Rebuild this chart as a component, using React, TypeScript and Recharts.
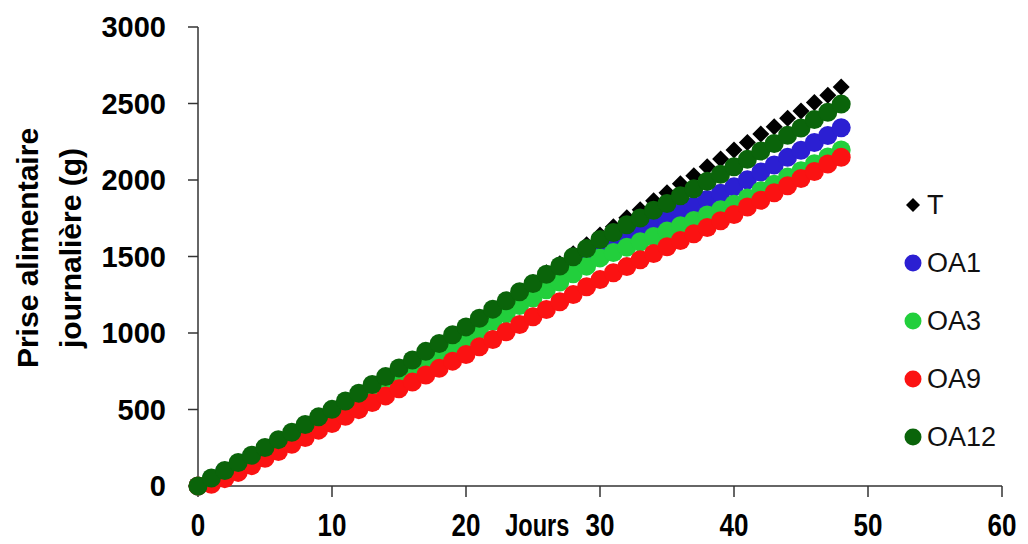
import { ScatterChart, Scatter, XAxis, YAxis, Legend } from 'recharts';

const days = [
  0, 1, 2, 3, 4, 5, 6, 7, 8, 9, 10, 11, 12, 13, 14, 15, 16, 17, 18, 19, 20, 21, 22, 23, 24,
  25, 26, 27, 28, 29, 30, 31, 32, 33, 34, 35, 36, 37, 38, 39, 40, 41, 42, 43, 44, 45, 46, 47, 48,
];

const T = [
  0, 47, 99, 146, 197, 244, 295, 342, 393, 440, 491, 541, 597, 648, 703, 754, 809, 860, 915, 966,
  1021, 1080, 1146, 1204, 1270, 1328, 1394, 1452, 1518, 1576, 1641, 1694, 1753, 1805, 1864, 1916,
  1975, 2027, 2086, 2138, 2196, 2245, 2300, 2348, 2403, 2451, 2506, 2554, 2608,
];
const OA1 = [
  0, 46, 97, 143, 193, 239, 289, 335, 385, 431, 481, 531, 585, 635, 689, 739, 793, 843, 897, 947,
  1001, 1053, 1109, 1161, 1217, 1269, 1325, 1377, 1433, 1485, 1541, 1581, 1624, 1664, 1707, 1747,
  1790, 1830, 1873, 1913, 1956, 2002, 2052, 2098, 2148, 2195, 2245, 2291, 2341,
];
const OA3 = [
  0, 44, 93, 137, 185, 229, 277, 321, 369, 413, 461, 510, 563, 612, 665, 714, 767, 816, 869, 918,
  971, 1021, 1075, 1125, 1179, 1229, 1283, 1333, 1387, 1437, 1491, 1526, 1561, 1596, 1631, 1666,
  1701, 1736, 1771, 1806, 1841, 1883, 1930, 1972, 2019, 2061, 2107, 2150, 2196,
];
const OA9 = [
  0, 12, 48, 89, 133, 181, 225, 273, 317, 365, 409, 456, 499, 546, 589, 636, 679, 726, 769, 816,
  859, 910, 957, 1008, 1055, 1106, 1153, 1204, 1251, 1302, 1349, 1394, 1434, 1479, 1519, 1564,
  1604, 1649, 1689, 1734, 1774, 1823, 1868, 1917, 1962, 2010, 2055, 2104, 2149,
];
const OA12 = [
  0, 52, 101, 153, 201, 252, 303, 351, 402, 452, 501, 556, 607, 664, 715, 772, 823, 880, 931, 988,
  1040, 1096, 1156, 1210, 1270, 1324, 1384, 1438, 1498, 1552, 1611, 1657, 1707, 1752, 1802, 1847,
  1897, 1942, 1992, 2037, 2087, 2135, 2190, 2238, 2292, 2340, 2395, 2443, 2496,
];

const xTicks = [0, 10, 20, 30, 40, 50, 60];
const yTicks = [0, 500, 1000, 1500, 2000, 2500, 3000];

const series = [
  { name: 'T', values: T, color: '#000000', marker: 'diamond' },
  { name: 'OA1', values: OA1, color: '#2b1fd2', marker: 'circle' },
  { name: 'OA3', values: OA3, color: '#22cf3c', marker: 'circle' },
  { name: 'OA9', values: OA9, color: '#fb1212', marker: 'circle' },
  { name: 'OA12', values: OA12, color: '#0a640a', marker: 'circle' },
];

const toPoints = (values: number[]) => days.map((d, i) => ({ day: d, value: values[i] }));

const makeShape = (color: string, marker: string) => (props: any) => {
  const { cx, cy } = props;
  if (cx == null || cy == null) return null;
  if (marker === 'diamond') {
    const s = 8.5;
    return <polygon points={`${cx},${cy - s} ${cx + s},${cy} ${cx},${cy + s} ${cx - s},${cy}`} fill={color} />;
  }
  return <circle cx={cx} cy={cy} r={9.5} fill={color} />;
};

const sansFont = '"Liberation Sans", Arial, sans-serif';

// x tick labels in the original are a condensed bold face, so squeeze horizontally
const XTick = ({ x, y, payload }: any) => (
  <text
    transform={`translate(${x}, ${y}) scale(0.84, 1)`}
    textAnchor="middle"
    dominantBaseline="central"
    fontFamily={sansFont}
    fontWeight="bold"
    fontSize={31}
    fill="#000"
  >
    {payload.value}
  </text>
);

const LegendBox = () => (
  <div style={{ fontFamily: sansFont, fontSize: 27, color: '#111' }}>
    {series.map((s) => (
      <div key={s.name} style={{ height: 58, display: 'flex', alignItems: 'center' }}>
        <svg width={20} height={20} style={{ marginRight: 4 }}>
          {s.marker === 'diamond' ? (
            <polygon points="10,3 17,10 10,17 3,10" fill={s.color} />
          ) : (
            <circle cx={10} cy={10} r={8.5} fill={s.color} />
          )}
        </svg>
        <span>{s.name}</span>
      </div>
    ))}
  </div>
);

const YLabel = () => {
  const cy = 240;
  return (
    <g fontFamily={sansFont} fontWeight="bold" fontSize={30} fill="#000">
      <text x={19} y={cy} textAnchor="middle" dominantBaseline="central" transform={`rotate(-90, 19, ${cy})`}>
        Prise alimentaire
      </text>
      <text x={62} y={cy} textAnchor="middle" dominantBaseline="central" transform={`rotate(-90, 62, ${cy})`}>
        journalière (g)
      </text>
    </g>
  );
};

const XLabel = ({ viewBox }: any) => {
  const x = viewBox.x + viewBox.width * 0.422;
  return (
    <text
      transform={`translate(${x}, 517) scale(0.76, 1)`}
      textAnchor="middle"
      dominantBaseline="central"
      fontFamily={sansFont}
      fontWeight="bold"
      fontSize={31}
      fill="#000"
    >
      Jours
    </text>
  );
};

export default function App() {
  return (
    <div style={{ width: 1012, height: 536, background: '#fff' }}>
      <ScatterChart width={1012} height={536} margin={{ top: 19, right: 18, bottom: 18, left: 80 }}>
        <XAxis
          type="number"
          dataKey="day"
          domain={[0, 60]}
          ticks={xTicks}
          interval={0}
          height={40}
          axisLine={{ stroke: '#333', strokeWidth: 1.5 }}
          tickLine={{ stroke: '#333', strokeWidth: 1.5 }}
          tickSize={11}
          tickMargin={28}
          tick={<XTick />}
          label={<XLabel />}
        />
        <YAxis
          type="number"
          dataKey="value"
          domain={[0, 3000]}
          ticks={yTicks}
          interval={0}
          width={110}
          axisLine={{ stroke: '#333', strokeWidth: 1.5 }}
          tickLine={{ stroke: '#333', strokeWidth: 1.5 }}
          tickSize={10}
          tickMargin={22}
          tick={{ fill: '#000', fontSize: 29, fontWeight: 'bold', fontFamily: sansFont }}
          label={<YLabel />}
        />
        {series.map((s) => (
          <Scatter
            key={s.name}
            name={s.name}
            data={toPoints(s.values)}
            fill={s.color}
            shape={makeShape(s.color, s.marker)}
            isAnimationActive={false}
          />
        ))}
        <Legend
          layout="vertical"
          align="center"
          verticalAlign="middle"
          content={<LegendBox />}
          wrapperStyle={{ left: 895, top: 168, width: 120, height: 290 }}
        />
      </ScatterChart>
    </div>
  );
}
